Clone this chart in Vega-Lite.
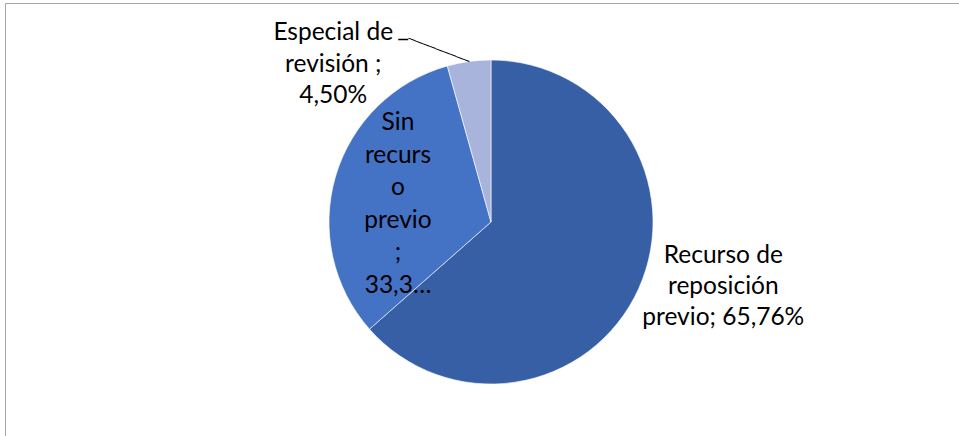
{
  "$schema": "https://vega.github.io/schema/vega-lite/v6.json",
  "width": 959,
  "height": 436,
  "autosize": {"type": "fit", "contains": "padding"},
  "padding": {"left": 5, "top": 3, "right": -18, "bottom": -5},
  "background": "white",
  "view": {"stroke": "#A6A6A6", "strokeWidth": 1},
  "config": {"view": {"stroke": "#A6A6A6", "strokeWidth": 1}},
  "data": {
    "values": [
      {"categoria": "Recurso de reposición previo", "valor": 65.76, "etiqueta": "Recurso de\nreposición\nprevio; 65,76%"},
      {"categoria": "Sin recurso previo", "valor": 33.3, "etiqueta": "Sin\nrecurs\no\nprevio\n;\n33,3…"},
      {"categoria": "Especial de revisión", "valor": 4.5, "etiqueta": "Especial de\nrevisión ;\n4,50%"}
    ]
  },
  "encoding": {
    "theta": {"field": "valor", "type": "quantitative", "stack": true},
    "order": {"field": "valor", "type": "quantitative", "sort": "descending"}
  },
  "layer": [
    {
      "mark": {"type": "arc", "outerRadius": 162, "stroke": "#ffffff", "strokeWidth": 0.6},
      "encoding": {
        "color": {
          "field": "categoria",
          "type": "nominal",
          "scale": {
            "domain": ["Recurso de reposición previo", "Sin recurso previo", "Especial de revisión"],
            "range": ["#365FA6", "#4472C4", "#A8B4DC"]
          },
          "legend": null
        }
      }
    },
    {
      "mark": {"type": "text", "radius": 155, "dx": 91, "dy": -29.5, "align": "center", "baseline": "middle", "font": "Lato", "fontSize": 24.5, "lineHeight": 31, "lineBreak": "\n", "color": "#000000"},
      "encoding": {
        "text": {"condition": {"test": "datum.categoria === 'Recurso de reposición previo'", "field": "etiqueta"}, "value": ""}
      }
    },
    {
      "mark": {"type": "text", "radius": 97, "dx": 0, "dy": -71, "align": "center", "baseline": "middle", "font": "Lato", "fontSize": 24.5, "lineHeight": 32.5, "lineBreak": "\n", "color": "#000000"},
      "encoding": {
        "text": {"condition": {"test": "datum.categoria === 'Sin recurso previo'", "field": "etiqueta"}, "value": ""}
      }
    },
    {
      "mark": {"type": "text", "radius": 160, "dx": -136, "dy": -30.5, "align": "center", "baseline": "middle", "font": "Lato", "fontSize": 24.5, "lineHeight": 31.7, "lineBreak": "\n", "color": "#000000"},
      "encoding": {
        "text": {"condition": {"test": "datum.categoria === 'Especial de revisión'", "field": "etiqueta"}, "value": ""}
      }
    },
    {
      "mark": {"type": "text", "radius": 173.6, "angle": 20.9, "dx": -26.8, "dy": 10.2, "align": "center", "baseline": "middle", "font": "DejaVu Sans Mono", "fontSize": 12, "color": "#000000"},
      "encoding": {
        "text": {"condition": {"test": "datum.categoria === 'Especial de revisión'", "value": "─────────"}, "value": ""}
      }
    },
    {
      "mark": {"type": "text", "radius": 185.4, "dx": -62.6, "dy": 1.5, "align": "center", "baseline": "middle", "font": "DejaVu Sans Mono", "fontSize": 16, "color": "#000000"},
      "encoding": {
        "text": {"condition": {"test": "datum.categoria === 'Especial de revisión'", "value": "─"}, "value": ""}
      }
    }
  ]
}
